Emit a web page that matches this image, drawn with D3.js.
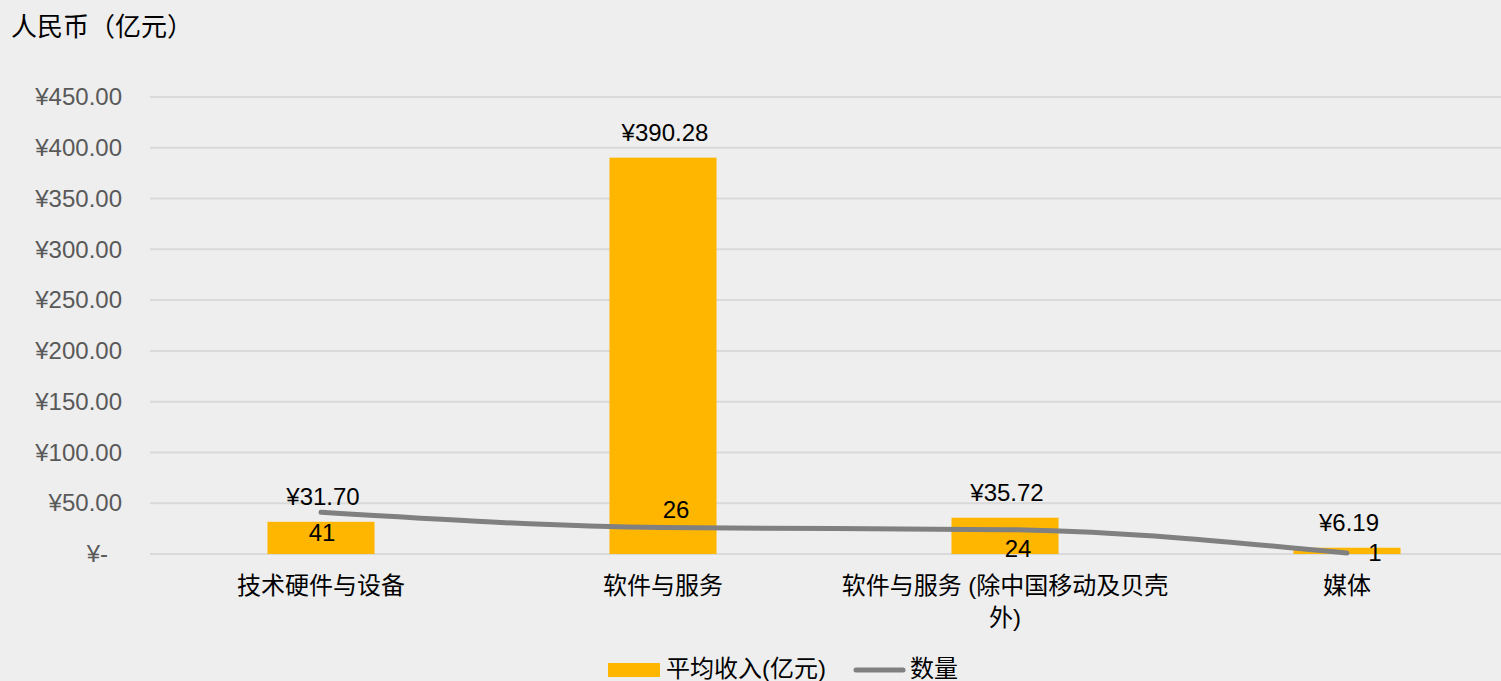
<!DOCTYPE html>
<html><head><meta charset="utf-8">
<script src="https://cdn.jsdelivr.net/npm/d3@7"></script>
<style>
html,body{margin:0;padding:0;background:#eeeeee;}
text{font-family:"Liberation Sans","Noto Sans CJK SC",Arial,sans-serif;}
</style></head>
<body><svg id="c" width="1501" height="681"></svg>
<script>
const categories = ["技术硬件与设备", "软件与服务", "软件与服务 (除中国移动及贝壳外)", "媒体"];
const categoryLines = [["技术硬件与设备"], ["软件与服务"], ["软件与服务 (除中国移动及贝壳", "外)"], ["媒体"]];
const avgRevenue = [31.70, 390.28, 35.72, 6.19];
const counts = [41, 26, 24, 1];
const yTicks = [0, 50, 100, 150, 200, 250, 300, 350, 400, 450];
const seriesNames = ["平均收入(亿元)", "数量"];
// label offsets (style) for count labels [dx, dy]
const countLabelOffsets = [[1, 20], [13, -18], [13, 19], [28, 0]];

const svg = d3.select("#c");
const W = 1501, H = 681;
const pLeft = 150, pRight = 1518, pTop = 97, pBottom = 554;
const FS = 24;

const x = d3.scaleBand().domain(categories).range([pLeft, pRight]).paddingInner(0).paddingOuter(0);
const y = d3.scaleLinear().domain([0, 450]).range([pBottom, pTop]);

svg.append("rect").attr("width", W).attr("height", H).attr("fill", "#eeeeee");

// gridlines
svg.append("g").selectAll("line").data(yTicks).join("line")
  .attr("x1", pLeft).attr("x2", W).attr("y1", d => y(d)).attr("y2", d => y(d))
  .attr("stroke", "#d9d9d9").attr("stroke-width", 2);

// y axis
const fmt = d3.format(",.2f");
const yAxis = d3.axisLeft(y).tickValues(yTicks).tickSize(0).tickPadding(0)
  .tickFormat(d => d === 0 ? "¥-" : "¥" + fmt(d));
const ga = svg.append("g").attr("transform", `translate(122,0)`).call(yAxis);
ga.select(".domain").remove();
ga.selectAll("text").attr("fill", "#595959").style("font-size", FS + "px")
  .style("font-family", "'Liberation Sans',Arial,sans-serif")
  .attr("dx", d => d === 0 ? -14 : 0);

// title
svg.append("text").attr("x", 11).attr("y", 36).text("人民币（亿元）")
  .style("font-family", "'Noto Sans CJK SC',sans-serif")
  .style("font-size", "26px").attr("fill", "#000");

// bars
const bw = x.bandwidth() * 0.313;
const cx = c => x(c) + x.bandwidth() / 2;
svg.append("g").selectAll("rect").data(categories).join("rect")
  .attr("x", (c) => cx(c) - bw / 2)
  .attr("y", (c, i) => y(avgRevenue[i]))
  .attr("width", bw)
  .attr("height", (c, i) => y(0) - y(avgRevenue[i]))
  .attr("fill", "#ffb600");

// value labels
svg.append("g").selectAll("text").data(categories).join("text")
  .attr("x", c => cx(c) + 2)
  .attr("y", (c, i) => y(avgRevenue[i]) - 17)
  .attr("text-anchor", "middle").style("font-size", FS + "px").attr("fill", "#000")
  .text((c, i) => "¥" + d3.format(".2f")(avgRevenue[i]));

// line
const line = d3.line().x((d, i) => cx(categories[i])).y(d => y(d)).curve(d3.curveMonotoneX);
svg.append("path").datum(counts).attr("d", line)
  .attr("fill", "none").attr("stroke", "#808080").attr("stroke-width", 5)
  .attr("stroke-linecap", "round").attr("stroke-linejoin", "round");

// count labels
svg.append("g").selectAll("text").data(counts).join("text")
  .attr("x", (d, i) => cx(categories[i]) + countLabelOffsets[i][0])
  .attr("y", (d, i) => y(d) + countLabelOffsets[i][1])
  .attr("dy", "0.35em")
  .attr("text-anchor", "middle").style("font-size", FS + "px").attr("fill", "#000")
  .text(d => d);

// category labels
const gc = svg.append("g");
categories.forEach((c, i) => {
  categoryLines[i].forEach((ln, j) => {
    gc.append("text").attr("x", cx(c)).attr("y", 594 + j * 32)
      .attr("text-anchor", "middle").style("font-size", FS + "px").attr("fill", "#000").text(ln);
  });
});

// legend
const lg = svg.append("g");
lg.append("rect").attr("x", 608).attr("y", 663).attr("width", 52).attr("height", 14).attr("fill", "#ffb600");
lg.append("text").attr("x", 666).attr("y", 677).style("font-size", FS + "px").attr("fill", "#000").text(seriesNames[0]);
lg.append("line").attr("x1", 856).attr("x2", 903).attr("y1", 670).attr("y2", 670)
  .attr("stroke", "#808080").attr("stroke-width", 5).attr("stroke-linecap", "round");
lg.append("text").attr("x", 910).attr("y", 677).style("font-size", FS + "px").attr("fill", "#000").text(seriesNames[1]);
</script>
</body></html>
